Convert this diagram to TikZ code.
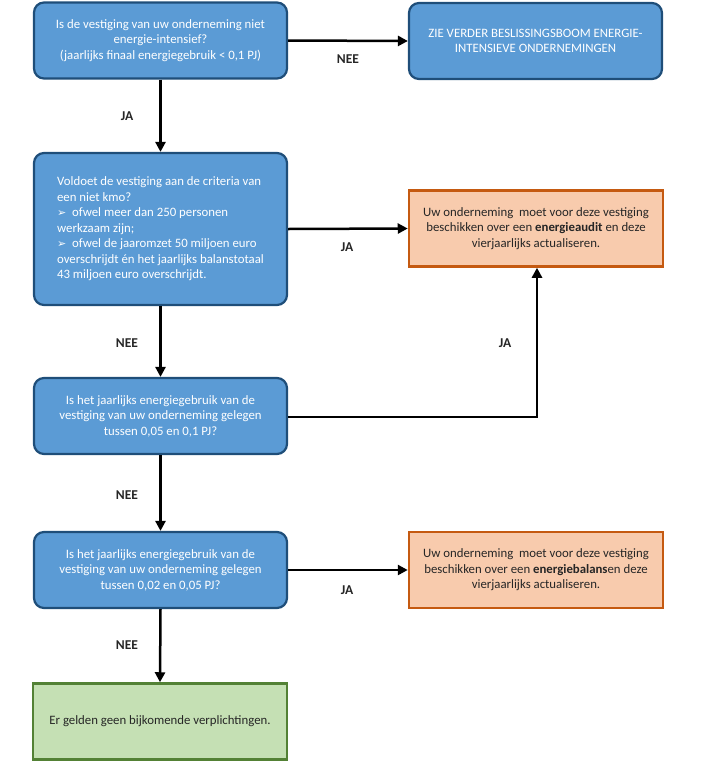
\documentclass[tikz,border=0pt]{standalone}
\usepackage{fontspec}
\setmainfont{Carlito}
\newfontfamily\dejavu{DejaVu Sans}
\usetikzlibrary{arrows.meta}
\definecolor{bfill}{HTML}{5B9BD5}
\definecolor{bline}{HTML}{1F4E79}
\definecolor{ofill}{HTML}{F8CBAD}
\definecolor{oline}{HTML}{C55A11}
\definecolor{gfill}{HTML}{C5E0B4}
\definecolor{gline}{HTML}{538135}
\tikzset{
  bluebox/.style={draw=bline, fill=bfill, line width=2.2pt, rounded corners=10pt, minimum width=253pt, minimum height=76pt, text=white, font=\fontsize{12.8}{15.5}\selectfont, align=center, inner sep=4pt},
  orangebox/.style={draw=oline, fill=ofill, line width=2.5pt, minimum width=254pt, minimum height=76pt, text=black!85, font=\fontsize{12.8}{15.5}\selectfont, align=center},
  greenbox/.style={draw=gline, fill=gfill, line width=2.5pt, minimum width=254pt, minimum height=76pt, text=black!85, font=\fontsize{12.8}{15.5}\selectfont, align=center},
  conn/.style={line width=2.5pt, -{Triangle[length=10pt,width=10pt]}},
  lbl/.style={font=\bfseries\fontsize{13.5}{15}\selectfont, text=black!85}
}
\begin{document}
\begin{tikzpicture}[x=1pt,y=-1pt]
\useasboundingbox (0,0) rectangle (707,772);
\node[bluebox] (q1) at (160.5,40.5) {Is de vestiging van uw onderneming niet\\energie-intensief?\\(jaarlijks finaal energiegebruik {\textless} 0,1 PJ)};
\node[bluebox] (ei) at (535.5,41) {ZIE VERDER BESLISSINGSBOOM ENERGIE-\\INTENSIEVE ONDERNEMINGEN};
\node[bluebox, minimum height=152pt, align=left] (q2) at (160.5,229) {Voldoet de vestiging aan de criteria van\\een niet kmo?\\{\dejavu\fontsize{11}{15.5}\selectfont ➢}\ \ ofwel meer dan 250 personen\\werkzaam zijn;\\{\dejavu\fontsize{11}{15.5}\selectfont ➢}\ \ ofwel de jaaromzet 50 miljoen euro\\overschrijdt én het jaarlijks balanstotaal\\43 miljoen euro overschrijdt.};
\node[orangebox] (audit) at (536,228.5) {Uw onderneming \ moet voor deze vestiging\\beschikken over een \textbf{energieaudit} en deze\\vierjaarlijks actualiseren.};
\node[bluebox] (q3) at (160.5,416) {Is het jaarlijks energiegebruik van de\\vestiging van uw onderneming gelegen\\tussen 0,05 en 0,1 PJ?};
\node[bluebox] (q4) at (160.5,570) {Is het jaarlijks energiegebruik van de\\vestiging van uw onderneming gelegen\\tussen 0,02 en 0,05 PJ?};
\node[orangebox] (balans) at (536,570) {Uw onderneming \ moet voor deze vestiging\\beschikken over een \textbf{energiebalans}en deze\\vierjaarlijks actualiseren.};
\node[greenbox] (none) at (160,721.5) {Er gelden geen bijkomende verplichtingen.};
\coordinate (corner) at (537,417);
\draw[conn] (q1.east) -- (ei.west);
\draw[conn] (q1.south) -- (q2.north);
\draw[conn] (q2.east) -- (audit.west);
\draw[conn] (q2.south) -- (q3.north);
\draw[conn] (q3.east |- corner) -- (corner) -- (audit.south -| corner);
\draw[conn] (q3.south) -- (q4.north);
\draw[conn] (q4.east) -- (balans.west);
\draw[conn] (q4.south) -- (none.north);
\node[lbl] (l1) at (348,59) {NEE};
\node[lbl] (l2) at (127,116) {JA};
\node[lbl] (l3) at (347,247) {JA};
\node[lbl] (l4) at (127,343) {NEE};
\node[lbl] (l5) at (505,343) {JA};
\node[lbl] (l6) at (127,495) {NEE};
\node[lbl] (l7) at (347,590) {JA};
\node[lbl] (l8) at (127,645) {NEE};
\end{tikzpicture}
\end{document}
